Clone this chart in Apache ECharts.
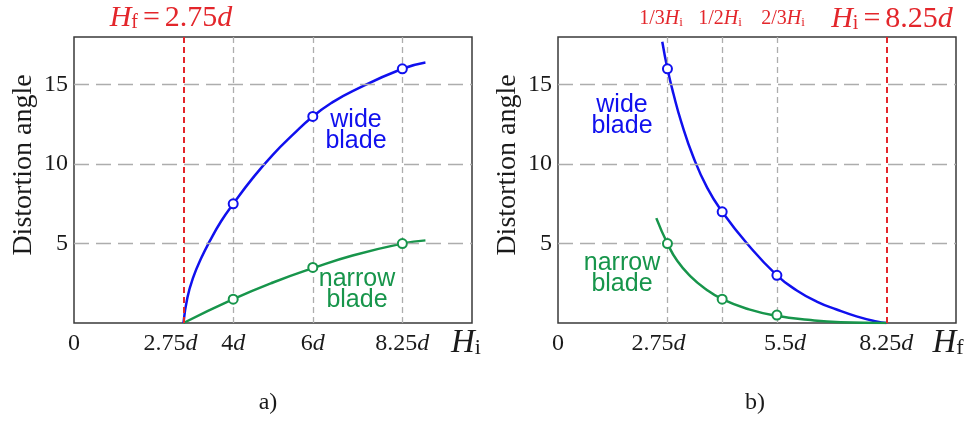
<!DOCTYPE html>
<html>
<head>
<meta charset="utf-8">
<script src="https://cdn.jsdelivr.net/npm/echarts@6/dist/echarts.min.js"></script>
<style>
html, body { margin: 0; padding: 0; background: #fff; }
#charts { width: 971px; height: 421px; }
</style>
</head>
<body>
<div id="charts"></div>
<script>
// a) H_f fixed at 2.75d, x axis is H_i
var aWideX   = [2.75, 2.85, 3.0, 3.2, 3.4, 3.7, 4, 4.5, 5, 5.5, 6, 6.5, 7, 8.25, 8.83];
var aWideY   = [0, 1.6, 2.9, 4.1, 5.1, 6.42, 7.5, 9.15, 10.6, 11.85, 13, 13.9, 14.6, 16, 16.4];
var aNarrowX = [2.75, 4, 5, 6, 7, 8.25, 8.83];
var aNarrowY = [0, 1.5, 2.55, 3.45, 4.25, 5, 5.2];
var aMarkX   = [4, 6, 8.25];
var aWideMark   = [7.5, 13, 16];
var aNarrowMark = [1.5, 3.5, 5];
var aTicks   = [0, 2.75, 4, 6, 8.25];
var aGridX   = [4, 6, 8.25];
var aRefX    = 2.75;

// b) H_i fixed at 8.25d, x axis is H_f
var bWideX   = [2.62, 2.75, 2.9, 3.1, 3.4, 3.75, 4.125, 4.76, 5.5, 6, 6.5, 7, 7.5, 8, 8.25];
var bWideY   = [17.7, 16, 14.43, 12.63, 10.45, 8.5, 7, 4.97, 3, 2.05, 1.35, 0.85, 0.42, 0.1, 0];
var bNarrowX = [2.47, 2.75, 3.0, 3.33, 3.7, 4.125, 4.8, 5.5, 6.28, 7.1, 8.25];
var bNarrowY = [6.6, 5, 3.9, 2.94, 2.16, 1.5, 0.86, 0.45, 0.2, 0.05, 0];
var bMarkX   = [2.75, 4.125, 5.5];
var bWideMark   = [16, 7, 3];
var bNarrowMark = [5, 1.5, 0.5];
var bTicks   = [0, 2.75, 5.5, 8.25];
var bGridX   = [2.75, 4.125, 5.5];
var bRefX    = 8.25;

var gridY = [5, 10, 15];

var serif = '"Liberation Serif", "Times New Roman", serif';
var sans = '"Liberation Sans", Arial, sans-serif';
var red = '#e3262b', blue = '#1010ee', green = '#17954b', grey = '#adadad', ink = '#1a1a1a';

function pairs(xs, ys) {
    var out = [];
    for (var i = 0; i < xs.length; i++) out.push([xs[i], ys[i]]);
    return out;
}

var tickRich = {
    n:  { fontFamily: serif, fontSize: 24, color: ink },
    i:  { fontFamily: serif, fontSize: 24, fontStyle: 'italic', color: ink },
    iL: { fontFamily: serif, fontSize: 24, fontStyle: 'italic', color: ink, padding: [0, 26, 0, 0] },
    iM: { fontFamily: serif, fontSize: 24, fontStyle: 'italic', color: ink, padding: [0, 18, 0, 0] },
    nR: { fontFamily: serif, fontSize: 24, color: ink, padding: [0, 0, 0, 16] }
};

function fmtA(v) {
    if (v === 0) return '{n|0}';
    if (v === 2.75) return '{n|2.75}{iL|d}';
    return '{n|' + v + '}{i|d}';
}
function fmtB(v) {
    if (v === 0) return '{n|0}';
    if (v === 2.75) return '{n|2.75}{iM|d}';
    if (v === 5.5) return '{nR|5.5}{i|d}';
    return '{n|' + v + '}{i|d}';
}

function xAxisOf(idx, ticks, fmt) {
    return {
        type: 'value', gridIndex: idx, min: 0, max: 10,
        axisLine: { show: false }, axisTick: { show: false }, splitLine: { show: false },
        axisLabel: { customValues: ticks, formatter: fmt, margin: 9, rich: tickRich }
    };
}
function yAxisOf(idx) {
    return {
        type: 'value', gridIndex: idx, min: 0, max: 18, interval: 5,
        name: 'Distortion angle', nameLocation: 'middle', nameGap: 36,
        nameTextStyle: { fontFamily: serif, fontSize: 28, color: ink, padding: [0, 0, 0, 30] },
        axisLine: { show: false }, axisTick: { show: false }, splitLine: { show: false },
        axisLabel: { showMinLabel: false, showMaxLabel: false, margin: 6,
            fontFamily: serif, fontSize: 24, color: ink }
    };
}

function guideSeries(idx, vx, refX) {
    var data = [];
    gridY.forEach(function (y) {
        data.push({ yAxis: y, lineStyle: { color: grey, width: 1.3, type: [15, 7] } });
    });
    vx.forEach(function (x) {
        data.push({ xAxis: x, lineStyle: { color: grey, width: 1.3, type: [6, 4] } });
    });
    data.push({ xAxis: refX, lineStyle: { color: red, width: 2, type: [6, 4] } });
    return {
        type: 'line', xAxisIndex: idx, yAxisIndex: idx, data: [], z: 1, silent: true,
        markLine: { symbol: 'none', silent: true, label: { show: false }, data: data }
    };
}
function curve(idx, xs, ys, color) {
    return {
        type: 'line', xAxisIndex: idx, yAxisIndex: idx, data: pairs(xs, ys),
        smooth: 0.5, symbol: 'none', z: 3,
        lineStyle: { color: color, width: 2.5 }
    };
}
function marks(idx, xs, ys, color) {
    return {
        type: 'scatter', xAxisIndex: idx, yAxisIndex: idx, data: pairs(xs, ys),
        symbol: 'circle', symbolSize: 9, z: 5,
        itemStyle: { color: '#fff', borderColor: color, borderWidth: 2, opacity: 1 }
    };
}

function rt(text, x, y, rich) {
    return { type: 'text', x: x, y: y, silent: true,
        style: { text: text, rich: rich, align: 'center', verticalAlign: 'middle' } };
}
function mathRich(size, color, gap) {
    return {
        H: { fontFamily: serif, fontSize: size, fontStyle: 'italic', fill: color },
        s: { fontFamily: serif, fontSize: Math.round(size * 0.66), fill: color,
             lineHeight: Math.round(size * 0.5), verticalAlign: 'bottom' },
        e: { fontFamily: serif, fontSize: size, fill: color, padding: [0, gap || 0, 0, gap || 0] },
        n: { fontFamily: serif, fontSize: size, fill: color },
        i: { fontFamily: serif, fontSize: size, fontStyle: 'italic', fill: color }
    };
}
function blockText(text, x, y, color) {
    return { type: 'text', x: x, y: y, silent: true,
        style: { text: text, fontFamily: sans, fontSize: 25, lineHeight: 21,
                 fill: color, align: 'center', verticalAlign: 'middle' } };
}

var myChart = echarts.init(document.getElementById('charts'));
myChart.setOption({
    animation: false,
    grid: [
        { left: 74, top: 37, width: 398, height: 286, show: true, borderColor: '#3a3a3a', borderWidth: 1.5 },
        { left: 558, top: 37, width: 398, height: 286, show: true, borderColor: '#3a3a3a', borderWidth: 1.5 }
    ],
    xAxis: [xAxisOf(0, aTicks, fmtA), xAxisOf(1, bTicks, fmtB)],
    yAxis: [yAxisOf(0), yAxisOf(1)],
    series: [
        guideSeries(0, aGridX, aRefX),
        curve(0, aWideX, aWideY, blue),
        curve(0, aNarrowX, aNarrowY, green),
        marks(0, aMarkX, aWideMark, blue),
        marks(0, aMarkX, aNarrowMark, green),
        guideSeries(1, bGridX, bRefX),
        curve(1, bWideX, bWideY, blue),
        curve(1, bNarrowX, bNarrowY, green),
        marks(1, bMarkX, bWideMark, blue),
        marks(1, bMarkX, bNarrowMark, green)
    ],
    graphic: [
        rt('{H|H}{s|f}{e|=}{n|2.75}{i|d}', 171, 18, mathRich(30, red, 5)),
        rt('{n|1/3}{H|H}{s|i}', 661, 19, mathRich(20, red)),
        rt('{n|1/2}{H|H}{s|i}', 720, 19, mathRich(20, red)),
        rt('{n|2/3}{H|H}{s|i}', 783, 19, mathRich(20, red)),
        rt('{H|H}{s|i}{e|=}{n|8.25}{i|d}', 892, 19, mathRich(30, red, 5)),
        rt('{H|H}{s|i}', 466, 343, mathRich(33, ink)),
        rt('{H|H}{s|f}', 948, 343, mathRich(33, ink)),
        rt('{n|a)}', 268, 403, mathRich(24, ink)),
        rt('{n|b)}', 755, 403, mathRich(24, ink)),
        blockText('wide\nblade', 356, 131, blue),
        blockText('narrow\nblade', 357, 290, green),
        blockText('wide\nblade', 622, 116, blue),
        blockText('narrow\nblade', 622, 274, green)
    ]
});
</script>
</body>
</html>
